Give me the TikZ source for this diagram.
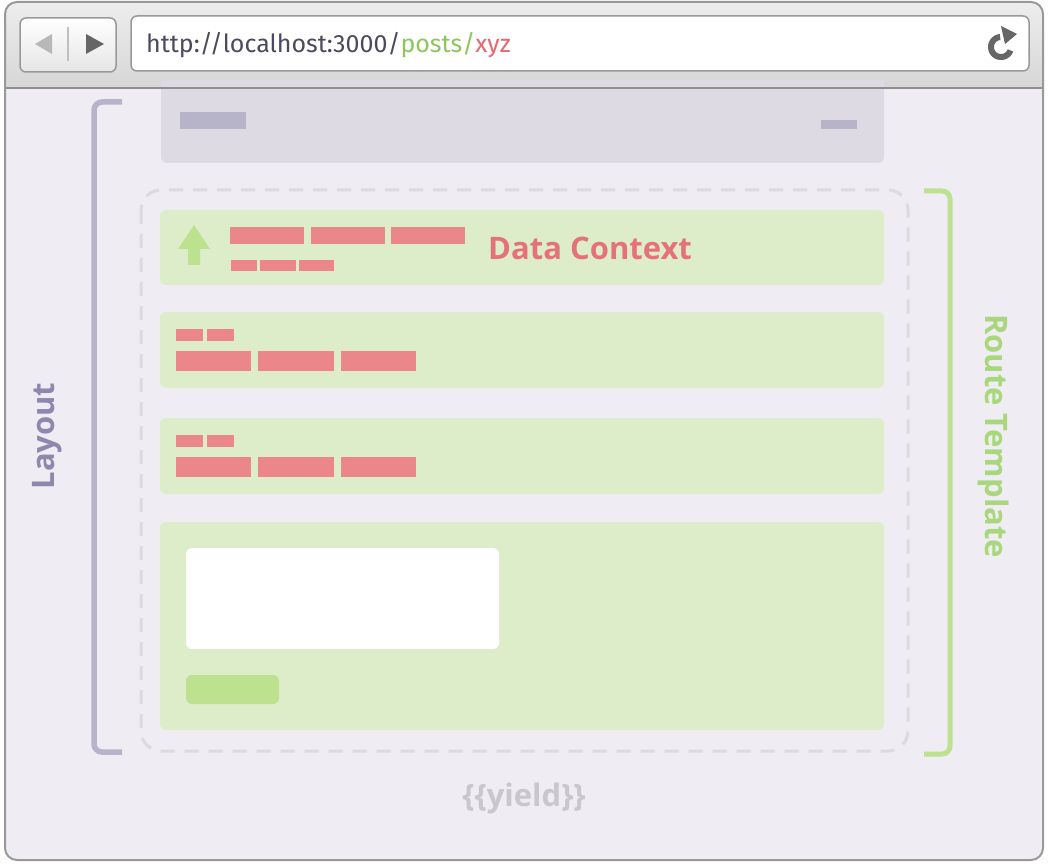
\documentclass[tikz,border=0pt]{standalone}
\usepackage{fontspec}
\setmainfont{Fira Sans}
\newfontfamily\labelfont{Open Sans}
\usetikzlibrary{arrows.meta}
\definecolor{bodybg}{HTML}{EFEDF3}
\definecolor{hdr}{HTML}{DDDAE4}
\definecolor{hdrbar}{HTML}{B7B3C9}
\definecolor{layoutc}{HTML}{B8B3CB}
\definecolor{layouttxt}{HTML}{8F88AE}
\definecolor{dashc}{HTML}{DCDAE1}
\definecolor{rowg}{HTML}{DDEDCA}
\definecolor{brightg}{HTML}{BDE28F}
\definecolor{routetxt}{HTML}{A9D77B}
\definecolor{redbar}{HTML}{EB878A}
\definecolor{redtxt}{HTML}{E5727A}
\definecolor{yieldc}{HTML}{C8C7CC}
\definecolor{urltxt}{HTML}{4B4A5E}
\definecolor{urlg}{HTML}{8DC75A}
\definecolor{urlr}{HTML}{E8666E}
\definecolor{frame}{HTML}{999999}
\tikzset{
  row/.style={fill=rowg, rounded corners=6},
  bar/.style={fill=redbar},
  hbar/.style={fill=hdrbar},
  bigtxt/.style={font=\labelfont\fontsize{31}{33}\selectfont\bfseries, inner sep=0},
}
\begin{document}
\begin{tikzpicture}[x=1pt,y=-1pt]
\useasboundingbox (0,0) rectangle (1048,866);
% window
\fill[bodybg, rounded corners=12] (5,2) rectangle (1043,860);
\begin{scope}
  \clip[rounded corners=12] (5,2) rectangle (1043,860);
  \shade[top color=black!7, bottom color=black!16] (5,2) rectangle (1043,88);
\end{scope}
% nav buttons
\shade[top color=white, bottom color=black!10, rounded corners=6] (20,18) rectangle (116,72);
\draw[frame, line width=1.5, rounded corners=6] (20,18) rectangle (116,72);
\fill[black!28] (35,44) -- (52,34) -- (52,54) -- cycle;
\draw[black!25, line width=1.5] (68,27) -- (68,61);
\fill[black!60] (86,34) -- (86,54) -- (104,44) -- cycle;
% url box
\draw[frame, fill=white, line width=1.5, rounded corners=6] (131,16) rectangle (1029,71);
\node[anchor=base west, inner sep=0, font=\fontsize{25}{27}\selectfont] (url) at (146,53)
  {\textcolor{urltxt}{http://localhost:3000/}\textcolor{urlg}{posts/}\textcolor{urlr}{xyz}};
% reload icon
\draw[black!60, line width=6] plot[domain=-265:-20, samples=60, smooth] ({1001+10*cos(\x)}, {47-10*sin(\x)});
\fill[black!60] (1001,26) -- (1017,34) -- (1005,44) -- cycle;
% header
\fill[hdr, rounded corners=6] (161,80) rectangle (884,163);
\fill[hdr] (161,80) rectangle (884,100);
\draw[frame!110, line width=2] (5,88) -- (1043,88);
\fill[hbar] (180,112) rectangle (246,129);
\fill[hbar] (821,120) rectangle (857,129);
\draw[frame, line width=2, rounded corners=12] (5,2) rectangle (1043,860);
% layout bracket
\draw[layoutc, line width=5.5, rounded corners=8] (122,102) -- (94,102) -- (94,752) -- (122,752);
\node[bigtxt, text=layouttxt, rotate=90] (layout) at (47,436) {Layout};
% dashed template outline
\draw[dashc, line width=3, dash pattern=on 14 off 10, rounded corners=20] (141,190) rectangle (908,751);
% route bracket
\draw[brightg, line width=5, rounded corners=8] (924,191) -- (950,191) -- (950,754) -- (924,754);
\node[bigtxt, text=routetxt, rotate=-90] (route) at (994,436) {Route Template};
% row 1
\fill[row] (160,210) rectangle (884,285);
\fill[brightg] (194,225) -- (210,249) -- (200,249) -- (200,265) -- (188,265) -- (188,249) -- (178,249) -- cycle;
\fill[bar] (230,227) rectangle (304,244);
\fill[bar] (311,227) rectangle (385,244);
\fill[bar] (391,227) rectangle (465,244);
\fill[bar] (231,260) rectangle (257,271);
\fill[bar] (260,260) rectangle (296,271);
\fill[bar] (299,260) rectangle (334,271);
\node[anchor=west, bigtxt, text=redtxt] (dc) at (488,248) {Data Context};
% row 2
\fill[row] (160,312) rectangle (884,388);
\fill[bar] (176,329) rectangle (203,341);
\fill[bar] (207,329) rectangle (234,341);
\fill[bar] (176,351) rectangle (251,371);
\fill[bar] (258,351) rectangle (334,371);
\fill[bar] (341,351) rectangle (416,371);
% row 3
\fill[row] (160,418) rectangle (884,494);
\fill[bar] (176,435) rectangle (203,447);
\fill[bar] (207,435) rectangle (234,447);
\fill[bar] (176,457) rectangle (251,477);
\fill[bar] (258,457) rectangle (334,477);
\fill[bar] (341,457) rectangle (416,477);
% row 4 (form)
\fill[row] (160,522) rectangle (884,730);
\fill[white, rounded corners=6] (186,548) rectangle (499,649);
\fill[brightg, rounded corners=6] (186,675) rectangle (279,704);
% yield
\node[bigtxt, text=yieldc] (yield) at (524,798) {\{\{yield\}\}};
\end{tikzpicture}
\end{document}
